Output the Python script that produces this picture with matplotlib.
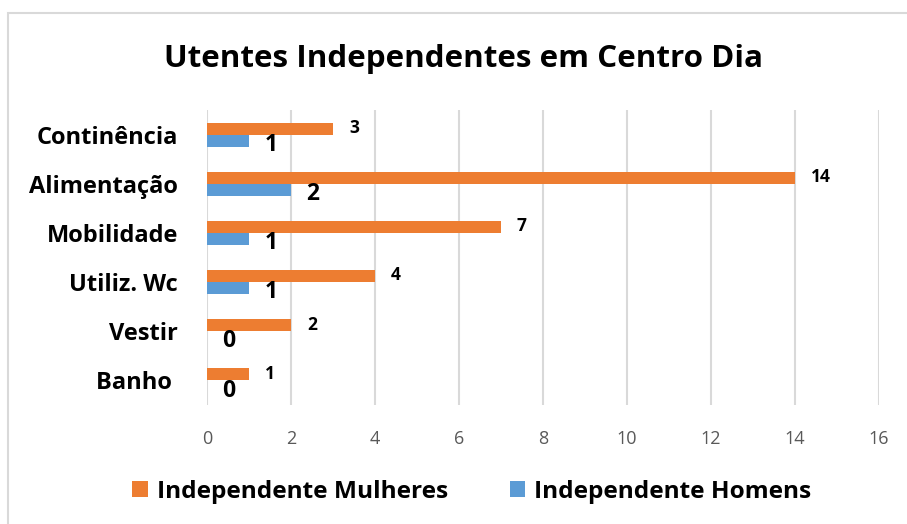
import matplotlib
matplotlib.use("Agg")
import matplotlib.pyplot as plt
import numpy as np

categories = ["Banho ", "Vestir", "Utiliz. Wc", "Mobilidade", "Alimentação", "Continência"]
mulheres = [1, 2, 4, 7, 14, 3]
homens = [0, 0, 1, 1, 2, 1]
series_names = ["Independente Mulheres", "Independente Homens"]
x_ticks = [0, 2, 4, 6, 8, 10, 12, 14, 16]

orange = "#ed7d31"
blue = "#5b9bd5"

plt.rcParams["font.family"] = ["Open Sans", "DejaVu Sans"]

fig = plt.figure(figsize=(9.07, 5.24), dpi=100)
ax = fig.add_axes([207 / 907, 1 - 405 / 524, 672 / 907, 295 / 524])

y = np.arange(len(categories))
h = 0.245
b1 = ax.barh(y + h / 2, mulheres, height=h, color=orange, label=series_names[0], zorder=3)
b2 = ax.barh(y - h / 2, homens, height=h, color=blue, label=series_names[1], zorder=3)

# data labels: small for women, larger for men (as in the original)
for rect, v in zip(b1, mulheres):
    ax.annotate(str(v), (rect.get_width(), rect.get_y() + rect.get_height() / 2),
                xytext=(11.5, 0.5), textcoords="offset points", va="center", ha="left",
                fontsize=12.5, fontweight="bold", color="black")
for rect, v in zip(b2, homens):
    ax.annotate(str(v), (rect.get_width(), rect.get_y() + rect.get_height() / 2),
                xytext=(11, -3), textcoords="offset points", va="center", ha="left",
                fontsize=16.5, fontweight="bold", color="black")

ax.set_xlim(0, 16)
ax.set_ylim(-0.5, len(categories) - 0.5)
ax.set_xticks(x_ticks)
ax.set_yticks(y)
ax.set_yticklabels(categories, fontsize=17, fontweight="bold")
ax.tick_params(axis="x", colors="#595959", labelsize=13, length=0, pad=18)
ax.tick_params(axis="y", length=0, pad=21)
ax.grid(axis="x", color="#d9d9d9", linewidth=1.5, zorder=0)
for s in ax.spines.values():
    s.set_visible(False)

fig.text(464 / 907, 1 - 59 / 524, "Utentes Independentes em Centro Dia",
         ha="center", va="center", fontsize=22.6, fontweight="bold")

fig.legend(handles=[b1, b2], loc="center", bbox_to_anchor=(472 / 907, 1 - 492 / 524),
           ncol=2, frameon=False, prop={"size": 17.6, "weight": "bold"},
           handlelength=0.62, handleheight=0.62, handletextpad=0.4, columnspacing=2.5)

border = plt.Rectangle((8 / 907, -0.1), 1.2, 1.1 - 13 / 524, transform=fig.transFigure,
                       fill=False, edgecolor="#d9d9d9", linewidth=1.5)
fig.patches.append(border)

fig.savefig("out.png", dpi=100)
